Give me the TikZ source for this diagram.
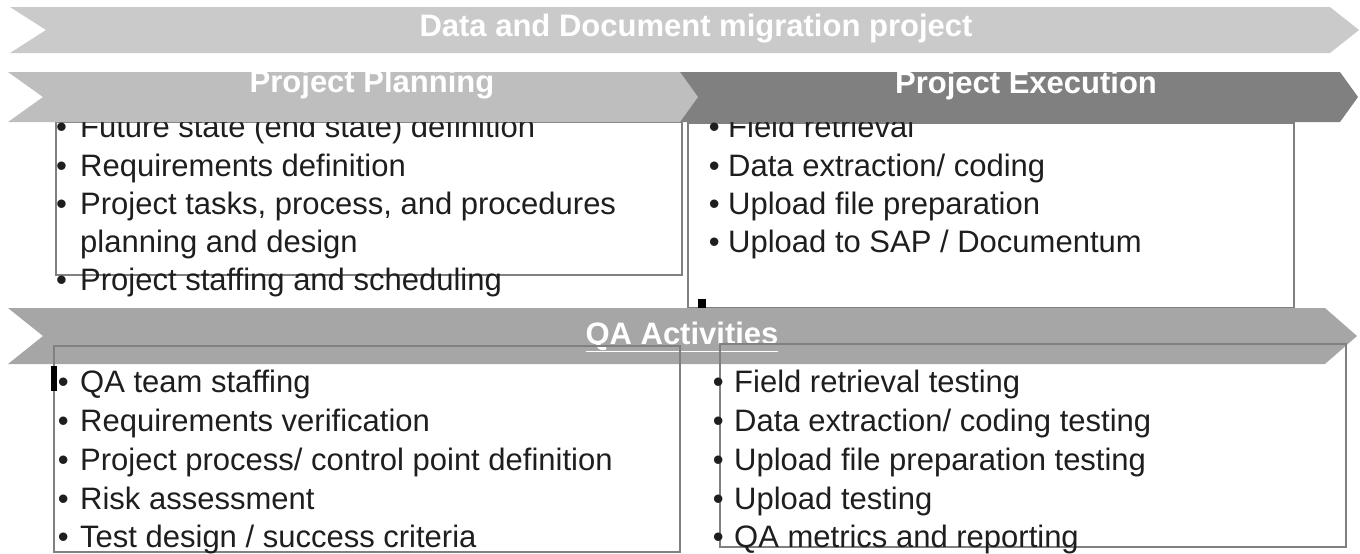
\documentclass[tikz,border=0pt]{standalone}
\usepackage{fontspec}
\setmainfont{Liberation Sans}
\definecolor{chevA}{RGB}{202,202,202}
\definecolor{chevB}{RGB}{190,190,190}
\definecolor{chevC}{RGB}{128,128,128}
\definecolor{chevD}{RGB}{166,166,166}
\definecolor{boxgray}{RGB}{128,128,128}
\definecolor{bodyink}{RGB}{30,30,30}
\newcommand\mybul[1]{\makebox[#1pt][l]{\textbullet}}
\begin{document}
\begin{tikzpicture}[x=1pt,y=-1pt,
  boxline/.style={draw=boxgray, line width=1.8pt},
  bodytxt/.style={anchor=base west, inner sep=0pt, font=\fontsize{31}{31}\selectfont, text=bodyink},
  chevtxt/.style={anchor=base, inner sep=0pt, font=\fontsize{31}{31}\selectfont\bfseries, text=white}]
\useasboundingbox (0,0) rectangle (1360,554);

% top chevron
\fill[chevA] (10,7) -- (1330,7) -- (1359,30) -- (1330,53) -- (10,53) -- (46,30) -- cycle;
\node[chevtxt] (title) at (696,36) {Data and Document migration project};

% execution box and text
\draw[boxline] (688,123) rectangle (1294,308);
\node[bodytxt] (e1) at (708.6,137) {\mybul{19.4}Field retrieval};
\node[bodytxt] (e2) at (708.6,176) {\mybul{19.4}Data extraction/ coding};
\node[bodytxt] (e3) at (708.6,214) {\mybul{19.4}Upload file preparation};
\node[bodytxt] (e4) at (708.6,252) {\mybul{19.4}Upload to SAP / Documentum};
\fill[black] (698,299) rectangle (706,308);

% planning box and text
\draw[boxline] (56,122) rectangle (682,275);
\node[bodytxt] (p1) at (56,137) {\mybul{24}Future state (end state) definition};
\node[bodytxt] (p2) at (56,176) {\mybul{24}Requirements definition};
\node[bodytxt] (p3) at (56,214) {\mybul{24}Project tasks, process, and procedures};
\node[bodytxt] (p4) at (80,252) {planning and design};
\node[bodytxt] (p5) at (56,290) {\mybul{24}Project staffing and scheduling};

% phase chevrons
\fill[chevC] (677,72) -- (1340,72) -- (1358,97) -- (1340,122) -- (677,122) -- cycle;
\fill[chevB] (8,72) -- (680,72) -- (698,97) -- (680,122) -- (8,122) -- (43,97) -- cycle;
\node[chevtxt] (plan) at (372,92) {Project Planning};
\node[chevtxt] (exec) at (1026,93) {Project Execution};

% QA chevron
\fill[chevD] (8,308) -- (1325,308) -- (1357,336) -- (1325,364) -- (8,364) -- (43,336) -- cycle;
\node[chevtxt] (qa) at (682,344) {\underline{QA Activities}};

% QA boxes
\draw[boxline] (54,346) rectangle (680,552);
\draw[boxline] (720,344) rectangle (1346,547);
\fill[black] (51,366) rectangle (57,391);
\node[bodytxt] (q1) at (57.6,392) {\mybul{22.4}QA team staffing};
\node[bodytxt] (q2) at (57.6,431) {\mybul{22.4}Requirements verification};
\node[bodytxt] (q3) at (57.6,470) {\mybul{22.4}Project process/ control point definition};
\node[bodytxt] (q4) at (57.6,509) {\mybul{22.4}Risk assessment};
\node[bodytxt] (q5) at (57.6,547) {\mybul{22.4}Test design / success criteria};
\node[bodytxt] (r1) at (712.6,392) {\mybul{21.4}Field retrieval testing};
\node[bodytxt] (r2) at (712.6,431) {\mybul{21.4}Data extraction/ coding testing};
\node[bodytxt] (r3) at (712.6,470) {\mybul{21.4}Upload file preparation testing};
\node[bodytxt] (r4) at (712.6,509) {\mybul{21.4}Upload testing};
\node[bodytxt] (r5) at (712.6,547) {\mybul{21.4}QA metrics and reporting};
\end{tikzpicture}
\end{document}
